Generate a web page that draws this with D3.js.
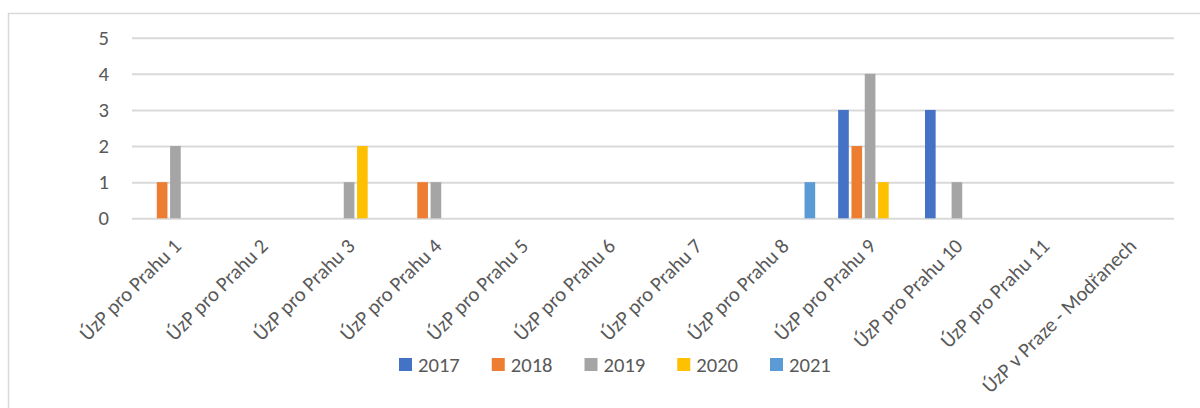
<!DOCTYPE html>
<html>
<head>
<meta charset="utf-8">
<script src="https://cdn.jsdelivr.net/npm/d3@7"></script>
<style>
  body { margin: 0; background: #fff; }
  text { font-family: Carlito, "Liberation Sans", Arial, sans-serif; fill: #595959; }
</style>
</head>
<body>
<svg id="chart" width="1200" height="408"></svg>
<script>
//////////////////// DATA ////////////////////
const categories = [
    "ÚzP pro Prahu 1", "ÚzP pro Prahu 2", "ÚzP pro Prahu 3", "ÚzP pro Prahu 4",
    "ÚzP pro Prahu 5", "ÚzP pro Prahu 6", "ÚzP pro Prahu 7", "ÚzP pro Prahu 8",
    "ÚzP pro Prahu 9", "ÚzP pro Prahu 10", "ÚzP pro Prahu 11", "ÚzP v Praze - Modřanech"
];
const years = ["2017", "2018", "2019", "2020", "2021"];

// values per year, one entry per category
const values2017 = [0, 0, 0, 0, 0, 0, 0, 0, 3, 3, 0, 0];
const values2018 = [1, 0, 0, 1, 0, 0, 0, 0, 2, 0, 0, 0];
const values2019 = [2, 0, 1, 1, 0, 0, 0, 0, 4, 1, 0, 0];
const values2020 = [0, 0, 2, 0, 0, 0, 0, 0, 1, 0, 0, 0];
const values2021 = [0, 0, 0, 0, 0, 0, 0, 1, 0, 0, 0, 0];

const yTicks = [0, 1, 2, 3, 4, 5];
const colors = ["#4472C4", "#ED7D31", "#A5A5A5", "#FFC000", "#5B9BD5"];

const seriesValues = [values2017, values2018, values2019, values2020, values2021];

//////////////////// SIZES ////////////////////
const svg = d3.select("#chart");
const plot = { left: 132, right: 1174, top: 37.7, bottom: 218.3 };
const fontFamily = "Carlito, Liberation Sans, Arial, sans-serif";
const fontSize = 20.6;

// chart border (right / bottom edges fall outside the picture)
svg.append("rect")
    .attr("x", 8.5).attr("y", 13.5)
    .attr("width", 1250).attr("height", 450)
    .attr("fill", "none")
    .attr("stroke", "#D9D9D9")
    .attr("stroke-width", 1.5);

//////////////////// SCALES ////////////////////
const x0 = d3.scaleBand()
    .domain(categories)
    .range([plot.left, plot.right])
    .paddingInner(0.234)
    .paddingOuter(0.117);

const x1 = d3.scaleBand()
    .domain(years)
    .range([0, x0.bandwidth()])
    .paddingInner(0.2)
    .paddingOuter(0.1);

const y = d3.scaleLinear()
    .domain([0, 5])
    .range([plot.bottom, plot.top]);

const color = d3.scaleOrdinal().domain(years).range(colors);

//////////////////// GRID + Y AXIS ////////////////////
const yAxis = d3.axisLeft(y)
    .tickValues(yTicks)
    .tickFormat(d3.format("d"))
    .tickSize(-(plot.right - plot.left))
    .tickPadding(23);

const yAxisGroup = svg.append("g")
    .attr("transform", `translate(${plot.left},0)`)
    .call(yAxis);

yAxisGroup.select(".domain").remove();
yAxisGroup.selectAll("line")
    .attr("stroke", "#D9D9D9")
    .attr("stroke-width", 2);
yAxisGroup.selectAll("text")
    .style("font-family", fontFamily)
    .attr("font-size", fontSize)
    .attr("fill", "#595959");

//////////////////// BARS ////////////////////
const barData = [];
categories.forEach((c, i) => {
    years.forEach((yr, j) => {
        if (seriesValues[j][i] > 0) barData.push({ cat: c, year: yr, value: seriesValues[j][i] });
    });
});

svg.append("g")
    .selectAll("rect")
    .data(barData)
    .join("rect")
    .attr("x", d => x0(d.cat) + x1(d.year))
    .attr("y", d => y(d.value))
    .attr("width", x1.bandwidth())
    .attr("height", d => y(0) - y(d.value))
    .attr("fill", d => color(d.year));

//////////////////// X AXIS LABELS ////////////////////
const xAxis = d3.axisBottom(x0).tickSize(0).tickPadding(0);
const xAxisGroup = svg.append("g")
    .attr("transform", `translate(0,${plot.bottom})`)
    .call(xAxis);
xAxisGroup.select(".domain").remove();
xAxisGroup.selectAll("text")
    .style("font-family", fontFamily)
    .attr("font-size", fontSize)
    .attr("fill", "#595959")
    .attr("text-anchor", "end")
    .attr("dy", 0)
    .attr("y", 0)
    .attr("transform", "translate(7,29) rotate(-45)");

//////////////////// LEGEND ////////////////////
const legendX = d3.scalePoint().domain(years).range([399, 770]);
const legend = svg.append("g")
    .selectAll("g")
    .data(years)
    .join("g")
    .attr("transform", d => `translate(${legendX(d)},358)`);

legend.append("rect")
    .attr("width", 13).attr("height", 13)
    .attr("fill", d => color(d));

legend.append("text")
    .attr("x", 19).attr("y", 14)
    .style("font-family", fontFamily)
    .attr("font-size", fontSize)
    .text(d => d);
</script>
</body>
</html>
